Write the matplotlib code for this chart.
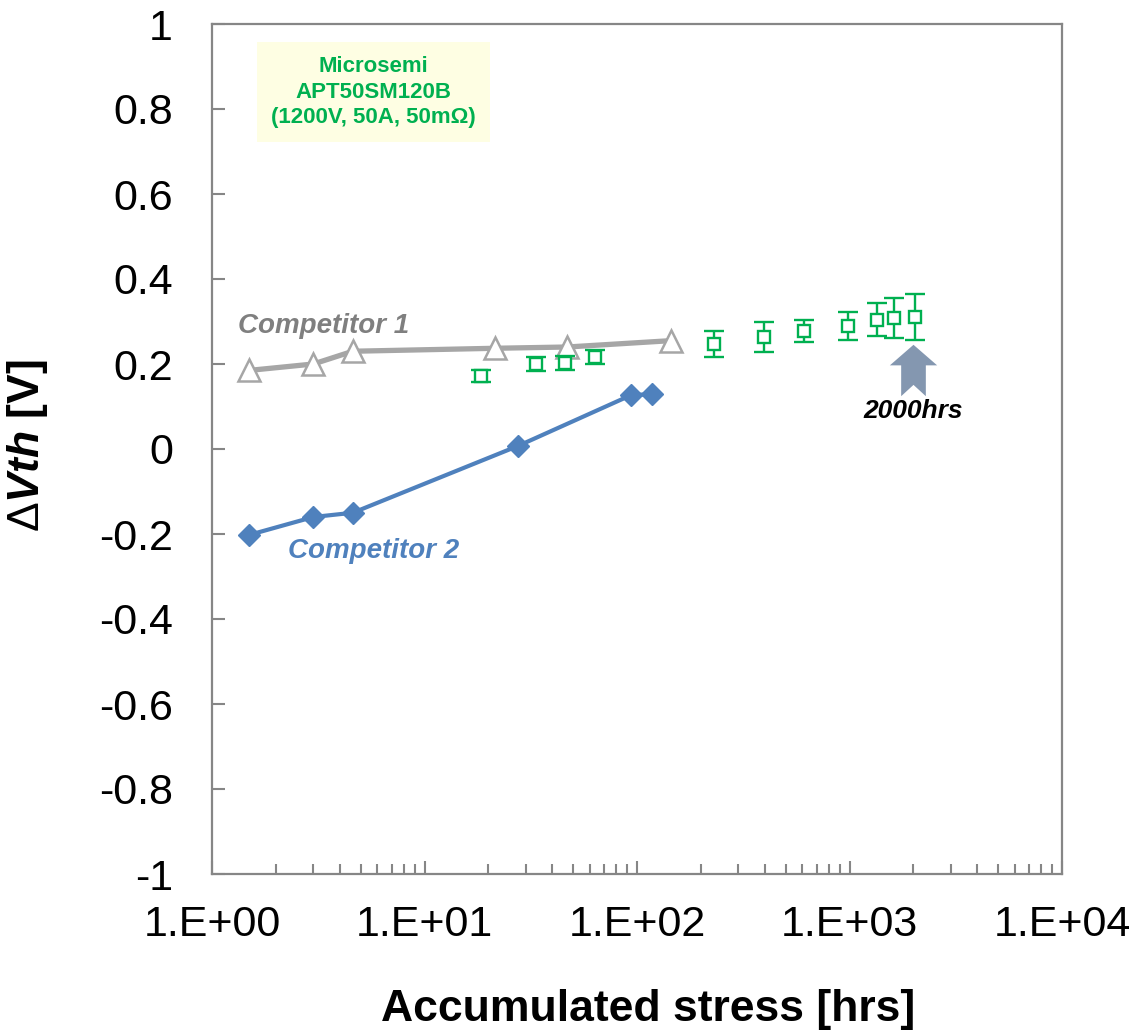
import numpy as np
import matplotlib
matplotlib.use("Agg")
import matplotlib.pyplot as plt
from matplotlib.path import Path
from matplotlib.ticker import FixedLocator, LogLocator, NullFormatter

plt.rcParams['font.family'] = ['Liberation Sans', 'DejaVu Sans']
plt.rcParams['mathtext.fontset'] = 'custom'
plt.rcParams['mathtext.rm'] = 'Liberation Sans'
plt.rcParams['mathtext.it'] = 'Liberation Sans:italic'
plt.rcParams['mathtext.bf'] = 'Liberation Sans:bold'
plt.rcParams['mathtext.bfit'] = 'Liberation Sans:italic:bold'

# ---- data ----
comp1_hrs = [1.5, 3.0, 4.6, 21.5, 47, 145]
comp1_dvth = [0.185, 0.20, 0.23, 0.237, 0.24, 0.255]

comp2_hrs = [1.5, 3.0, 4.6, 27.5, 94, 118]
comp2_dvth = [-0.202, -0.16, -0.15, 0.007, 0.127, 0.129]

micro_hrs = [18.4, 33.4, 45.7, 63.4, 231, 398, 614, 989, 1341, 1614, 2027]
micro_dvth = [0.172, 0.200, 0.202, 0.216, 0.247, 0.264, 0.278, 0.290, 0.304, 0.308, 0.311]
micro_err = [0.014, 0.016, 0.016, 0.016, 0.031, 0.035, 0.026, 0.033, 0.039, 0.047, 0.054]

x_ticks = [1, 10, 100, 1000, 10000]
x_ticklabels = ['1.E+00', '1.E+01', '1.E+02', '1.E+03', '1.E+04']
y_ticks = [-1, -0.8, -0.6, -0.4, -0.2, 0, 0.2, 0.4, 0.6, 0.8, 1]
y_ticklabels = ['-1', '-0.8', '-0.6', '-0.4', '-0.2', '0', '0.2', '0.4', '0.6', '0.8', '1']

GRAY_LINE = '#a6a6a6'
GRAY_TEXT = '#7f7f7f'
BLUE = '#4f81bd'
GREEN = '#00b050'
ARROW = '#8497b0'
SPINE = '#868686'

fig = plt.figure(figsize=(11.37, 10.35), dpi=100)
ax = fig.add_axes([212/1137, 1 - 874/1035, 850/1137, 850/1035])
ax.set_xscale('log')
ax.set_xlim(1, 10000)
ax.set_ylim(-1, 1)

# Competitor 1
ax.plot(comp1_hrs, comp1_dvth, color=GRAY_LINE, lw=3.8, marker='^', ms=16,
        mfc='white', mec=GRAY_LINE, mew=1.8, zorder=3)
# Competitor 2
ax.plot(comp2_hrs, comp2_dvth, color=BLUE, lw=3.0, marker='D', ms=11.5,
        mfc=BLUE, mec=BLUE, zorder=3)
# Microsemi
ax.errorbar(micro_hrs, micro_dvth, yerr=micro_err, fmt='s', ms=8, mfc='white',
            mec=GREEN, mew=1.7, ecolor=GREEN, elinewidth=1.7, capsize=7.5, capthick=1.7,
            zorder=4)

# ticks
ax.xaxis.set_major_locator(FixedLocator(x_ticks))
ax.set_xticklabels(x_ticklabels)
ax.xaxis.set_minor_locator(LogLocator(base=10, subs=np.arange(2, 10), numticks=20))
ax.xaxis.set_minor_formatter(NullFormatter())
ax.set_yticks(y_ticks)
ax.set_yticklabels(y_ticklabels)
ax.tick_params(axis='both', which='major', direction='in', length=9.5, width=1.5,
               color=SPINE, labelsize=31, labelcolor='black')
ax.tick_params(axis='x', which='major', pad=22)
ax.tick_params(axis='y', which='major', pad=28)
ax.tick_params(axis='x', which='minor', direction='in', length=7, width=1.5, color=SPINE)
for s in ax.spines.values():
    s.set_color(SPINE)
    s.set_linewidth(1.6)

ax.set_xlabel('Accumulated stress [hrs]', fontsize=32, fontweight='bold')
ax.xaxis.set_label_coords(0.513, -0.135)
ax.set_ylabel(r'$\Delta\mathbfit{Vth}$ [V]', fontsize=32, fontweight='bold')
ax.yaxis.set_label_coords(-0.19, 0.504)

# annotations
ax.text(1.33, 0.29, 'Competitor 1', color=GRAY_TEXT, fontsize=20, fontweight='bold',
        fontstyle='italic', ha='left', va='center')
ax.text(2.28, -0.24, 'Competitor 2', color=BLUE, fontsize=20, fontweight='bold',
        fontstyle='italic', ha='left', va='center')
ax.text(0.19, 0.92, 'Microsemi\nAPT50SM120B\n(1200V, 50A, 50m\u03a9)', transform=ax.transAxes,
        color=GREEN, fontsize=16, fontweight='bold', ha='center', va='center',
        linespacing=1.25,
        bbox=dict(boxstyle='square,pad=0.65', fc='#fefee3', ec='none'))

# block arrow marking 2000 hrs
arrow_path = Path([(0, 25), (23, 5), (12, 5), (12, -25), (0, -14),
                   (-12, -25), (-12, 5), (-23, 5), (0, 25)], closed=True)
ax.plot([2000], [0.186], marker=arrow_path, ms=37, color=ARROW, mec='none', zorder=2)
ax.text(2000, 0.090, '2000hrs', fontsize=19, fontweight='bold', fontstyle='italic',
        ha='center', va='center', color='black')

fig.savefig('out.png', dpi=100)
